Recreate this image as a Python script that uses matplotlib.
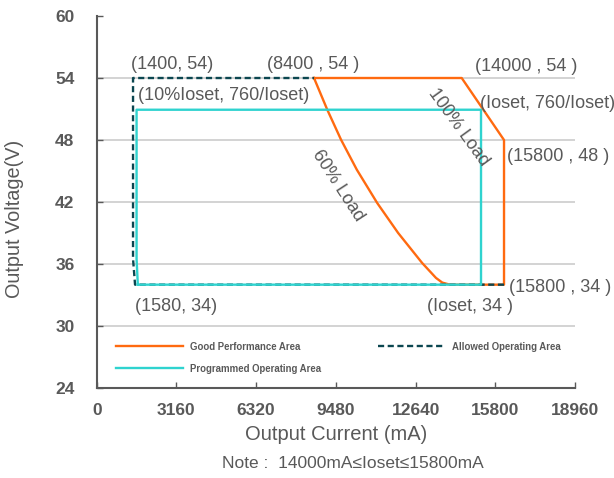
import matplotlib
matplotlib.use("Agg")
import matplotlib.pyplot as plt

plt.rcParams['font.family'] = ['Liberation Sans', 'DejaVu Sans']

# ---- data (axis units: mA / V) ----
good_x = [8614, 14469, 16146, 16146, 14000, 13700, 13450, 12900, 11950, 11120, 10310, 9685, 9140, 8614]
good_y = [54, 54, 48, 34, 34, 34.2, 34.65, 36.1, 39.0, 41.9, 45.13, 48.03, 50.93, 54]

allowed_x = [16146, 1520, 1440, 1440, 8614]
allowed_y = [34, 34, 36.5, 54, 54]

prog_x = [1630, 1580, 1580, 15234, 15234, 1630]
prog_y = [34, 36.5, 50.93, 50.93, 34, 34]

xticks = [0, 3160, 6320, 9480, 12640, 15800, 18960]
yticks = [24, 30, 36, 42, 48, 54, 60]

labels = [
    ("(1400, 54)", 1348, 55.26),
    ("(8400 , 54 )", 6739, 55.26),
    ("(14000 , 54 )", 14996, 55.1),
    ("(10%Ioset, 760/Ioset)", 1625, 52.35),
    ("(Ioset, 760/Ioset)", 15194, 51.58),
    ("(15800 , 48 )", 16252, 46.45),
    ("(15800 , 34 )", 16344, 33.77),
    ("(1580, 34)", 1518, 31.87),
    ("(Ioset, 34 )", 13081, 31.87),
]
rot_labels = [
    ("60% Load", 9565, 43.55, -57),
    ("100% Load", 14322, 49.26, -54),
]

ORANGE = '#FF6A10'
CYAN = '#2FD3CF'
DARK = '#0B4650'
GREY = '#595959'

fig = plt.figure(figsize=(6.14, 4.78), dpi=100)
ax = fig.add_axes([0.1575, 0.1883, 0.7790, 0.7782])

h_good, = ax.plot(good_x, good_y, color=ORANGE, lw=1.7, label='Good Performance Area', zorder=3)
h_allow, = ax.plot(allowed_x, allowed_y, color=DARK, lw=1.7, ls=(0, (2.6, 1.5)),
                   label='Allowed Operating Area', zorder=4)
h_prog, = ax.plot(prog_x, prog_y, color=CYAN, lw=1.7, label='Programmed Operating Area', zorder=5)

ax.set_xlim(0, 18960)
ax.set_ylim(24, 60)
ax.set_xticks(xticks)
ax.set_yticks(yticks)
ax.set_xticklabels([str(t) for t in xticks])
ax.set_yticklabels([str(t) for t in yticks])

ax.grid(axis='y', color='#D0D0D0', lw=1.3, zorder=0)
ax.set_axisbelow(True)
ax.get_ygridlines()[-1].set_visible(False)

for s in ['top', 'right']:
    ax.spines[s].set_visible(False)
for s in ['left', 'bottom']:
    ax.spines[s].set_color(GREY)
    ax.spines[s].set_linewidth(1.5)

ax.tick_params(axis='y', direction='in', length=4, width=1, color=GREY, pad=16,
               labelsize=12.5, labelcolor=GREY)
ax.tick_params(axis='x', direction='in', length=4, width=1, color=GREY, pad=11,
               labelsize=12.5, labelcolor=GREY)
for lab in ax.get_xticklabels() + ax.get_yticklabels():
    lab.set_fontweight('bold')

ax.set_xlabel('Output Current (mA)', fontsize=14.5, color=GREY, labelpad=5)
ax.set_ylabel('Output Voltage(V)', fontsize=14.3, color=GREY)
ax.yaxis.set_label_coords(-0.152, 0.454)
fig.text(0.575, 1 - 463 / 478, 'Note :  14000mA\u2264Ioset\u226415800mA', fontsize=12.5,
         color=GREY, ha='center', va='center', family=['Liberation Sans', 'DejaVu Sans'])

for t, x, y in labels:
    ax.text(x, y, t, fontsize=13, color=GREY, ha='left', va='center', clip_on=False, zorder=6)
for t, x, y, r in rot_labels:
    ax.text(x, y, t, fontsize=13, color=GREY, ha='center', va='center', rotation=r,
            rotation_mode='anchor', zorder=6)

leg = ax.legend(handles=[h_good, h_prog, h_allow], ncol=2, loc='upper left',
                bbox_to_anchor=(0.022, 0.148), frameon=False,
                handlelength=7.0, handletextpad=0.7, columnspacing=6.0, labelspacing=1.25,
                prop={'family': 'Liberation Sans', 'weight': 'bold', 'size': 6.9})
for txt in leg.get_texts():
    txt.set_color(GREY)

fig.savefig('out.png', dpi=100)
